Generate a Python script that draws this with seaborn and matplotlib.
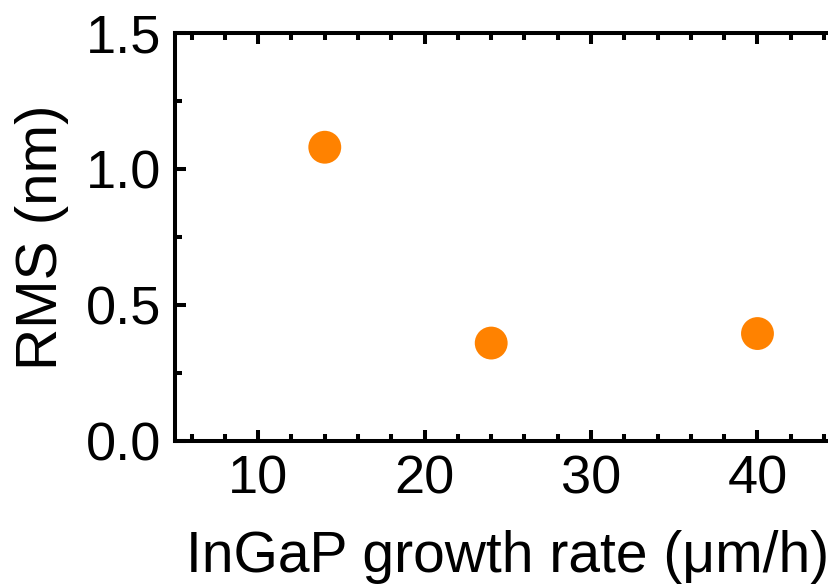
import matplotlib
matplotlib.use("Agg")
import matplotlib.pyplot as plt
import seaborn as sns
import pandas as pd
from matplotlib.ticker import MultipleLocator

growth_rate = [14, 24, 40]
rms = [1.08, 0.36, 0.395]
x_ticks = [10, 20, 30, 40]
y_ticks = [0.0, 0.5, 1.0, 1.5]

sns.set_style("ticks")
plt.rcParams['font.family'] = ['Liberation Sans', 'DejaVu Sans']
plt.rcParams['text.color'] = 'black'
plt.rcParams['axes.labelcolor'] = 'black'
plt.rcParams['xtick.color'] = 'black'
plt.rcParams['ytick.color'] = 'black'

df = pd.DataFrame({"rate": growth_rate, "rms": rms})

fig = plt.figure(figsize=(8.29, 5.84), dpi=100)
ax = fig.add_axes([0.2111, 0.2449, 0.803, 0.6986])
sns.scatterplot(data=df, x="rate", y="rms", ax=ax, color="#FF8200",
                s=560, edgecolor="none", linewidth=0, zorder=3)

ax.set_xlim(5, 45)
ax.set_ylim(0, 1.5)
ax.set_xticks(x_ticks)
ax.set_yticks(y_ticks)
ax.set_xticklabels([str(v) for v in x_ticks])
ax.set_yticklabels([f"{v:.1f}" for v in y_ticks])
ax.xaxis.set_minor_locator(MultipleLocator(2))
ax.yaxis.set_minor_locator(MultipleLocator(0.25))

for sp in ax.spines.values():
    sp.set_linewidth(2.9)
    sp.set_color("black")
    sp.set_visible(True)

ax.tick_params(which="both", direction="in", top=True, right=True,
               width=2.9, color="black", labelcolor="black")
ax.tick_params(which="major", length=8, labelsize=39, pad=10)
ax.tick_params(which="minor", length=5)

ax.set_xlabel("InGaP growth rate (μm/h)", fontsize=41, labelpad=18, color="black")
ax.set_ylabel("RMS (nm)", fontsize=42, labelpad=12, color="black")

fig.savefig("out.png", dpi=100)
